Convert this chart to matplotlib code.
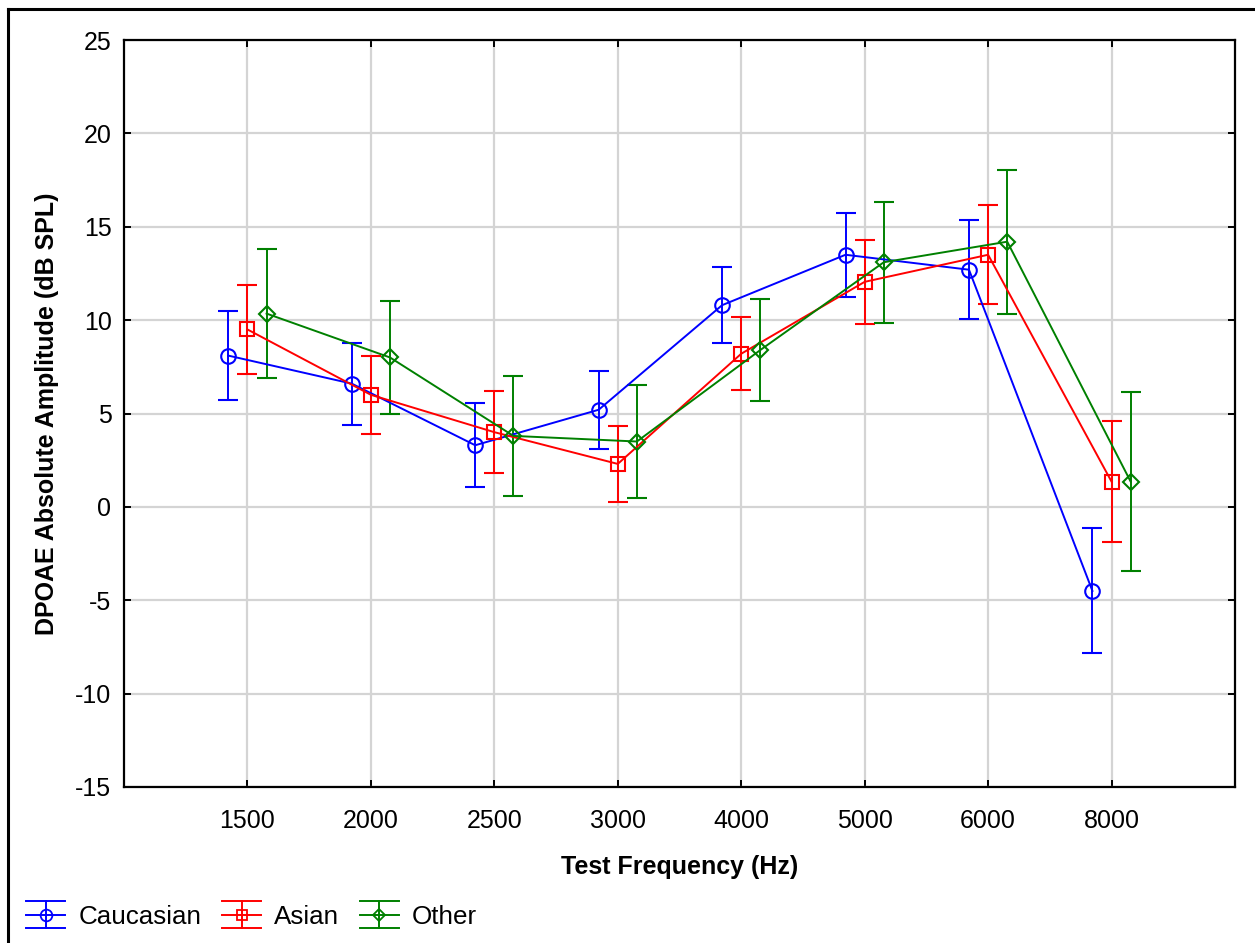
import matplotlib
matplotlib.use("Agg")
import matplotlib.pyplot as plt
from matplotlib.lines import Line2D
from matplotlib.legend_handler import HandlerBase
import numpy as np

plt.rcParams['font.family'] = ['Liberation Sans', 'DejaVu Sans']
plt.rcParams['axes.unicode_minus'] = False

freqs = ["1500", "2000", "2500", "3000", "4000", "5000", "6000", "8000"]
cauc_mean = [8.1, 6.6, 3.3, 5.2, 10.8, 13.5, 12.7, -4.5]
cauc_err = [2.4, 2.2, 2.25, 2.1, 2.05, 2.25, 2.65, 3.35]
asian_mean = [9.5, 6.0, 4.0, 2.3, 8.2, 12.05, 13.5, 1.35]
asian_err = [2.4, 2.1, 2.2, 2.05, 1.95, 2.25, 2.65, 3.25]
other_mean = [10.35, 8.0, 3.8, 3.5, 8.4, 13.1, 14.2, 1.35]
other_err = [3.45, 3.05, 3.2, 3.05, 2.75, 3.25, 3.85, 4.8]

series = [
    ("Caucasian", cauc_mean, cauc_err, "#0000ff", "o", -0.155, 10.5),
    ("Asian", asian_mean, asian_err, "#ff0000", "s", 0.0, 9.5),
    ("Other", other_mean, other_err, "#008000", "D", 0.155, 8),
]

fig = plt.figure(figsize=(12.55, 9.43), dpi=100)
ax = fig.add_axes([124/1255, 1-787/943, (1235-124)/1255, (787-40)/943])

x = np.arange(1, len(freqs)+1)
for name, m, e, c, mk, off, ms in series:
    ax.errorbar(x+off, m, yerr=e, color=c, marker=mk, markersize=ms,
                markerfacecolor='none', markeredgecolor=c, markeredgewidth=1.5,
                linewidth=1.4, elinewidth=1.4, capsize=7, capthick=1.4, zorder=3)

ax.set_xlim(0, 9)
ax.set_ylim(-15, 25)
ax.set_xticks(x)
ax.set_xticklabels(freqs)
ax.set_yticks(np.arange(-15, 26, 5))
ax.grid(True, color='#d4d4d4', linewidth=1.6, zorder=0)
ax.set_axisbelow(True)
ax.tick_params(direction='in', length=5, width=1.4, top=True, right=True,
               labelsize=18, pad=9)
ax.tick_params(axis='x', pad=16)
for sp in ax.spines.values():
    sp.set_linewidth(1.6)
ax.set_xlabel("Test Frequency (Hz)", fontsize=18, fontweight='bold', labelpad=16)
ax.set_ylabel("DPOAE Absolute Amplitude (dB SPL)", fontsize=18, fontweight='bold', labelpad=12)

class ErrHandler(HandlerBase):
    def __init__(self, color, marker, ms):
        super().__init__()
        self.color, self.marker, self.ms = color, marker, ms
    def create_artists(self, legend, orig_handle, xdescent, ydescent, width, height, fontsize, trans):
        cy = height/2 - ydescent
        h = 9.5
        arts = []
        for yy in (cy - h, cy, cy + h):
            arts.append(Line2D([-xdescent, width-xdescent], [yy, yy], color=self.color, lw=1.4, transform=trans))
        arts.append(Line2D([width/2-xdescent]*2, [cy-h, cy+h], color=self.color, lw=1.4, transform=trans))
        arts.append(Line2D([width/2-xdescent], [cy], marker=self.marker, markersize=self.ms,
                           markerfacecolor='none', markeredgecolor=self.color, markeredgewidth=1.3,
                           linestyle='none', transform=trans))
        return arts

handles = [Line2D([], [], color=c) for _, _, _, c, _, _, _ in series]
hmap = {h: ErrHandler(c, mk, ms*0.8) for h, (_, _, _, c, mk, _, ms) in zip(handles, series)}
fig.legend(handles, [s[0] for s in series], handler_map=hmap, loc='lower left',
           bbox_to_anchor=(3/1255, -9/943), ncol=3, frameon=False, fontsize=18.7,
           handlelength=1.5, handletextpad=0.5, columnspacing=0.8)

# partial outer frame
fig.add_artist(Line2D([8/1255, 8/1255], [0, 1-9/943], color='black', lw=2.2, transform=fig.transFigure))
fig.add_artist(Line2D([8/1255, 1], [1-9/943, 1-9/943], color='black', lw=2.2, transform=fig.transFigure))

fig.savefig("out.png", dpi=100, facecolor='white')
